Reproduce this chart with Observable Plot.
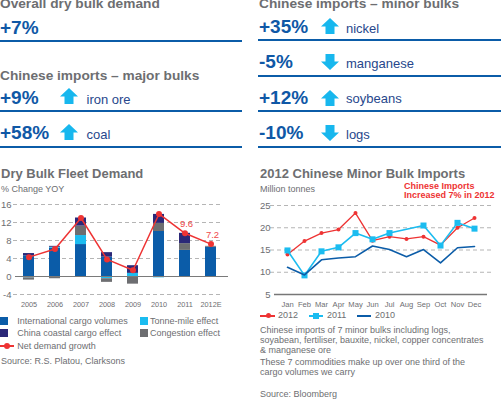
<!DOCTYPE html>
<html><head><meta charset="utf-8">
<script src="https://cdn.jsdelivr.net/npm/d3@7"></script>
<script src="https://cdn.jsdelivr.net/npm/@observablehq/plot@0.6"></script>
<style>
body{margin:0;width:501px;height:399px;overflow:hidden;background:#fff;font-family:"Liberation Sans",Arial,sans-serif;position:relative}
.t{position:absolute;white-space:nowrap}
.abs{position:absolute}
</style></head><body>
<script>
// ---------- data ----------
const years = ["2005","2006","2007","2008","2009","2010","2011","2012E"];
const intlCargo  = [4.6, 6.3, 7.1, 4.3, 0.0, 10.0, 5.8, 6.5];
const tonneMile  = [-0.3, 0.2, 2.0, -0.5, 0.7, -0.3, 0.0, 0.0];
const congestion = [-0.5, -0.5, 2.1, -0.8, -1.7, 1.8, 1.5, 0.2];
const coastal    = [0.5, 0.2, 1.8, 1.0, 1.7, 2.0, 2.3, 0.0];
const netDemand  = [4.3, 6.1, 13.0, 3.8, 1.4, 13.9, 9.6, 7.2];
const leftTicks = [-4, 0, 4, 8, 12, 16];

const months = ["Jan","Feb","Mar","Apr","May","Jun","Jul","Aug","Sep","Oct","Nov","Dec"];
const imports2012 = [14.0, 17.0, 18.8, 19.6, 23.3, 17.1, 18.0, 17.5, 18.0, 16.1, 20.0, 22.2];
const imports2011 = [14.9, 9.3, 14.7, 15.6, 18.8, 17.4, 18.8, null, 20.5, 16.0, 21.1, 19.8];
const imports2010 = [11.1, 9.4, 12.8, 13.2, 13.5, 15.9, 15.1, 13.5, 15.1, 12.1, 15.5, 15.8];
const rightTicks = [5, 10, 15, 20, 25];

const majorValues = ["+9%", "+58%"];
const majorLabels = ["iron ore", "coal"];
const minorValues = ["+35%", "-5%", "+12%", "-10%"];
const minorLabels = ["nickel", "manganese", "soybeans", "logs"];

// ---------- colours ----------
const BLUE = "#0b5ca8", CYAN = "#1bbcf0", NAVY = "#2b2878", GREY = "#6d6e71", RED = "#ee3333";
const KPI = "#0f58a6", WORD = "#27478c", ARROW = "#17b7ee", TXT = "#6d6e71";

// ---------- helpers ----------
function T(x, base, fs, text, opt = {}) {
  const d = document.createElement("div");
  d.className = "t";
  d.style.left = x + "px";
  d.style.top = (base - 0.8465 * fs) + "px";
  d.style.fontSize = fs + "px";
  d.style.lineHeight = fs + "px";
  d.style.fontWeight = opt.bold ? "bold" : "normal";
  d.style.color = opt.color || TXT;
  d.textContent = text;
  document.body.appendChild(d);
  return d;
}
function box(x, y, w, h, color, extra = "") {
  const d = document.createElement("div");
  d.className = "abs";
  d.style.cssText += `left:${x}px;top:${y}px;width:${w}px;height:${h}px;background:${color};${extra}`;
  document.body.appendChild(d);
  return d;
}
function arrow(x, y, up) {
  const ns = "http://www.w3.org/2000/svg";
  const s = document.createElementNS(ns, "svg");
  s.setAttribute("width", 18); s.setAttribute("height", 16);
  s.style.cssText = `position:absolute;left:${x}px;top:${y}px`;
  const p = document.createElementNS(ns, "polygon");
  p.setAttribute("points", up ? "9,0 18,8.5 13.5,8.5 13.5,16 4.5,16 4.5,8.5 0,8.5"
                              : "4.5,0 13.5,0 13.5,7.5 18,7.5 9,16 0,7.5 4.5,7.5");
  p.setAttribute("fill", ARROW);
  s.appendChild(p);
  document.body.appendChild(s);
}

// ---------- KPI header ----------
T(0, 8.5, 13.7, "Overall dry bulk demand", {bold: true});
T(0, 34, 19, "+7%", {bold: true, color: KPI});
box(0, 39.5, 242, 2, BLUE);
T(0, 81, 13.7, "Chinese imports – major bulks", {bold: true});
const majorBase = [104, 139.5], majorArrowY = [88, 123.5], majorRule = [109.5, 146];
majorValues.forEach((v, i) => {
  T(0, majorBase[i], 19, v, {bold: true, color: KPI});
  arrow(60, majorArrowY[i], true);
  T(86.5, majorBase[i], 13, majorLabels[i], {color: WORD});
  box(0, majorRule[i], 242, 2, BLUE);
});

T(259, 8.3, 13.7, "Chinese imports – minor bulks", {bold: true});
const minorBase = [33.3, 68.3, 104, 139.3], minorArrowY = [18, 53.5, 89.5, 124.5], minorRule = [38.5, 74.5, 110, 146.3];
minorValues.forEach((v, i) => {
  T(259, minorBase[i], 19, v, {bold: true, color: KPI});
  arrow(321, minorArrowY[i], v.startsWith("+"));
  T(346, minorBase[i] - 0.5, 13, minorLabels[i], {color: WORD});
  box(258, minorRule[i], 243, 2, BLUE);
});

// ---------- left chart ----------
T(1, 178.3, 13, "Dry Bulk Fleet Demand", {bold: true});
T(1, 192.7, 9, "% Change YOY");

const comps = ["International cargo volumes", "Tonne-mile effect", "Congestion effect", "China coastal cargo effect"];
const compVals = [intlCargo, tonneMile, congestion, coastal];
const stacked = [];
years.forEach((yr, i) => comps.forEach((c, j) => stacked.push({year: yr, comp: c, value: compVals[j][i]})));
const net = years.map((yr, i) => ({year: yr, net: netDemand[i]}));

const dash = {stroke: "#b5b5b5", strokeOpacity: 1, strokeDasharray: "4,3"};
const font = {fontFamily: "Liberation Sans, Arial, sans-serif", background: "transparent", overflow: "visible"};

const leftPlot = Plot.plot({
  width: 245, height: 114, marginLeft: 15, marginRight: 19.6, marginTop: 8, marginBottom: 16,
  style: font,
  x: {domain: years, paddingInner: 0.56, paddingOuter: 0.25, label: null},
  y: {domain: [-4, 16], label: null},
  color: {domain: comps, range: [BLUE, CYAN, GREY, NAVY]},
  marks: [
    Plot.gridY(leftTicks.filter(d => d !== 0), {...dash, insetLeft: -2, insetRight: 2.4}),
    Plot.barY(stacked, {x: "year", y: "value", fill: "comp"}),
    Plot.ruleY([0], {stroke: "#7a7a7a", strokeWidth: 1.2, insetRight: -2.6}),
    Plot.axisY(leftTicks, {tickSize: 0, tickPadding: 4, fontSize: 9.5, fill: TXT, label: null, tickFormat: d => String(d)}),
    Plot.axisX({tickSize: 0, tickPadding: 7, fontSize: 7.3, fill: TXT, label: null}),
    Plot.line(net, {x: "year", y: "net", stroke: RED, strokeWidth: 1.5}),
    Plot.dot(net, {x: "year", y: "net", r: 3, fill: RED}),
    Plot.text(net.filter(d => d.year === "2011" || d.year === "2012E"),
      {x: "year", y: "net", text: d => String(d.net), dy: -9, dx: 1.5, fill: "#ef4a4a", fontSize: 9.5})
  ]
});
const lw = document.createElement("div");
lw.className = "abs"; lw.style.left = "0px"; lw.style.top = "196px";
lw.appendChild(leftPlot);
document.body.appendChild(lw);

// left legend
const legColors = [BLUE, CYAN, NAVY, GREY];
const legNames = ["International cargo volumes", "Tonne-mile effect", "China coastal cargo effect", "Congestion effect"];
legNames.forEach((n, i) => {
  const col = i % 2, row = Math.floor(i / 2);
  const x = col ? 139.5 : 0, y = row ? 329.3 : 316.7;
  box(x, y, 8, 8, legColors[i]);
  T(col ? 150 : 17.3, y + 7.5, 9, n);
});
box(0, 345.3, 14, 1.5, RED);
box(4, 343, 6, 6, RED, "border-radius:3px");
T(17.3, 349.8, 9, "Net demand growth");
T(1, 364.3, 9, "Source: R.S. Platou, Clarksons");

// ---------- right chart ----------
T(260, 178.3, 13, "2012 Chinese Minor Bulk Imports", {bold: true});
T(260, 192.7, 9, "Million tonnes");

const d12 = months.map((m, i) => ({m, v: imports2012[i]}));
const d11 = months.map((m, i) => ({m, v: imports2011[i]})).filter(d => d.v != null);
const d10 = months.map((m, i) => ({m, v: imports2010[i]}));

const rightPlot = Plot.plot({
  width: 251, height: 114, marginLeft: 24, marginRight: 14, marginTop: 9, marginBottom: 16,
  style: font,
  x: {type: "point", domain: months, padding: 0.5, label: null},
  y: {domain: [5, 25], label: null},
  marks: [
    Plot.gridY(rightTicks.filter(d => d !== 5), {...dash, insetLeft: -4, insetRight: -5}),
    Plot.ruleY([5], {stroke: "#777", strokeWidth: 1.5}),
    Plot.axisY(rightTicks, {tickSize: 0, tickPadding: 4, fontSize: 9.5, fill: TXT, label: null, tickFormat: d => String(d)}),
    Plot.axisX({tickSize: 0, tickPadding: 7, fontSize: 7.6, fill: TXT, label: null}),
    Plot.line(d12, {x: "m", y: "v", stroke: RED, strokeWidth: 1.3}),
    Plot.dot(d12, {x: "m", y: "v", r: 2, fill: RED}),
    Plot.line(d11, {x: "m", y: "v", stroke: CYAN, strokeWidth: 1.6}),
    Plot.dot(d11, {x: "m", y: "v", r: 3.4, symbol: "square", fill: CYAN}),
    Plot.line(d10, {x: "m", y: "v", stroke: BLUE, strokeWidth: 1.6})
  ]
});
const rw = document.createElement("div");
rw.className = "abs"; rw.style.left = "250px"; rw.style.top = "196px";
rw.appendChild(rightPlot);
document.body.appendChild(rw);

T(404, 189.5, 9, "Chinese Imports", {bold: true, color: RED});
T(404, 198.4, 9, "Increased 7% in 2012", {bold: true, color: RED});

// right legend
box(260, 315, 15, 1.5, RED);
box(265.5, 313, 5, 5, RED, "border-radius:2.5px");
T(278, 318.5, 9, "2012");
box(309, 315, 14, 1.5, CYAN);
box(313, 313, 6, 6, CYAN);
T(327, 318.5, 9, "2011");
box(357, 315, 14, 1.5, BLUE);
T(375, 318.5, 9, "2010");

T(260, 334, 9, "Chinese imports of 7 minor bulks including logs,");
T(260, 343.7, 9, "soyabean, fertiliser, bauxite, nickel, copper concentrates");
T(260, 353.3, 9, "& manganese ore");
T(260, 365.7, 9, "These 7 commodities make up over one third of the");
T(260, 375.5, 9, "cargo volumes we carry");
T(260, 397.3, 9, "Source: Bloomberg");
</script>
</body></html>
